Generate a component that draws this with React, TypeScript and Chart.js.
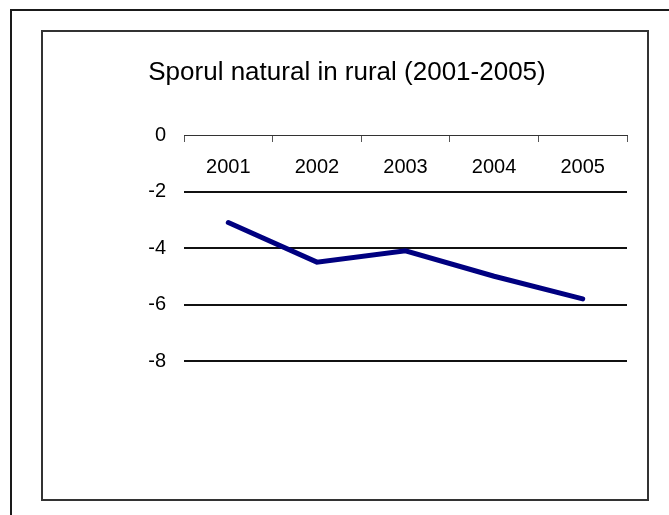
import React, { useEffect, useRef } from "react";
import { Chart, registerables } from "chart.js";

Chart.register(...registerables);

const TITLE = "Sporul natural in rural (2001-2005)";
const CATEGORIES = ["2001", "2002", "2003", "2004", "2005"];
const VALUES = [-3.1, -4.5, -4.1, -5.0, -5.8];
const Y_MIN = -8;
const Y_MAX = 0;
const Y_STEP = 2;

const frame = {
  id: "frame",
  beforeDraw(chart: any) {
    const ctx = chart.ctx;
    ctx.save();
    ctx.fillStyle = "#ffffff";
    ctx.fillRect(0, 0, chart.width, chart.height);
    ctx.strokeStyle = "#1a1a1a";
    ctx.lineWidth = 2;
    ctx.strokeRect(11, 10, 700, 540);
    ctx.strokeStyle = "#333333";
    ctx.lineWidth = 2;
    ctx.strokeRect(42, 31, 606, 469);
    ctx.fillStyle = "#000000";
    ctx.font = "26px 'Liberation Sans', Arial, sans-serif";
    ctx.textAlign = "center";
    ctx.textBaseline = "middle";
    ctx.fillText(TITLE, 347, 73);
    ctx.restore();
  },
};

export default function App() {
  const ref = useRef<HTMLCanvasElement | null>(null);
  useEffect(() => {
    if (!ref.current) return;
    const chart = new Chart(ref.current, {
      type: "line",
      data: {
        labels: CATEGORIES,
        datasets: [
          {
            data: VALUES,
            borderColor: "#000080",
            borderWidth: 5,
            pointRadius: 0,
            pointHoverRadius: 0,
            tension: 0,
            borderCapStyle: "round",
            borderJoinStyle: "miter",
            fill: false,
          },
        ],
      },
      options: {
        responsive: false,
        animation: false,
        events: [],
        layout: { padding: { left: 0, right: 42, top: 135, bottom: 154 } },
        plugins: { legend: { display: false }, title: { display: false }, tooltip: { enabled: false } },
        scales: {
          x: {
            type: "category",
            position: { y: 0 } as any,
            offset: true,
            grid: {
              drawOnChartArea: false,
              offset: true,
              drawTicks: true,
              tickLength: 6,
              color: "#555555",
              lineWidth: 1,
            },
            border: { display: true, color: "#333333", width: 1 },
            ticks: {
              padding: 14,
              color: "#000000",
              font: { family: "'Liberation Sans', Arial, sans-serif", size: 20 },
              maxRotation: 0,
            },
          },
          y: {
            min: Y_MIN,
            max: Y_MAX,
            afterFit: (scale: any) => {
              scale.width = 184;
            },
            ticks: {
              stepSize: Y_STEP,
              padding: 18,
              color: "#000000",
              font: { family: "'Liberation Sans', Arial, sans-serif", size: 20 },
            },
            grid: {
              drawTicks: false,
              color: (c: any) => (c.tick && c.tick.value === 0 ? "rgba(0,0,0,0)" : "#111111"),
              lineWidth: 2,
            },
            border: { display: false },
          },
        },
      },
      plugins: [frame],
    });
    return () => chart.destroy();
  }, []);
  return (
    <div style={{ position: "absolute", left: 0, top: 0, width: 669, height: 515 }}>
      <canvas ref={ref} width={669} height={515} style={{ display: "block" }} />
    </div>
  );
}
